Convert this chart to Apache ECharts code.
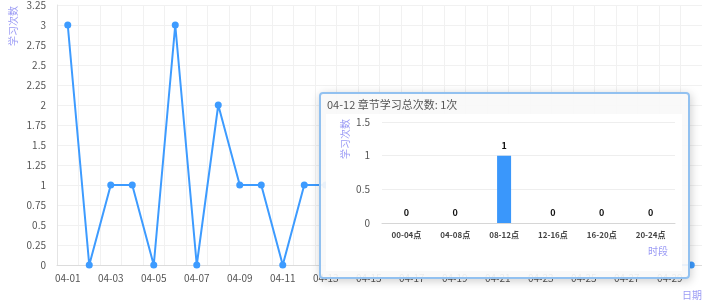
<!DOCTYPE html>
<html>
<head>
<meta charset="utf-8">
<script src="https://cdn.jsdelivr.net/npm/echarts@6/dist/echarts.min.js"></script>
<style>
  html, body { margin: 0; padding: 0; background: #fff; }
  #main { width: 702px; height: 307px; }
</style>
</head>
<body>
<div id="main"></div>
<script>
var fontFamily = '"Noto Sans CJK SC", "Noto Sans", sans-serif';

// daily totals, April
var days = ['04-01', '04-02', '04-03', '04-04', '04-05', '04-06', '04-07', '04-08', '04-09', '04-10',
  '04-11', '04-12', '04-13', '04-14', '04-15', '04-16', '04-17', '04-18', '04-19', '04-20',
  '04-21', '04-22', '04-23', '04-24', '04-25', '04-26', '04-27', '04-28', '04-29', '04-30'];
var dayCounts = [3, 0, 1, 1, 0, 3, 0, 2, 1, 1,
  0, 1, 1, 0, 0, 0, 0, 0, 0, 0,
  0, 0, 0, 0, 0, 0, 0, 0, 0, 0];

// time slots for the hovered day
var slots = ['00-04点', '04-08点', '08-12点', '12-16点', '16-20点', '20-24点'];
var slotCounts = [0, 0, 1, 0, 0, 0];

var lineColor = '#3d9bff';
var nameColor = '#9b9bf5';

var chartDom = document.getElementById('main');
var myChart = echarts.init(chartDom);

var tipEl = null;
function buildTip(params) {
  if (tipEl) return tipEl;
  tipEl = document.createElement('div');
  var title = document.createElement('div');
  title.style.cssText = 'height:20px;line-height:20px;font-size:11px;color:#555;padding-left:1px;';
  title.textContent = params.name + ' 章节学习总次数: ' + params.value + '次';
  var box = document.createElement('div');
  box.style.cssText = 'width:356px;height:157px;background:#fff;';
  tipEl.appendChild(title);
  tipEl.appendChild(box);

  var inner = echarts.init(box, null, { width: 356, height: 157 });
  inner.setOption({
    animation: false,
    textStyle: { fontFamily: fontFamily },
    grid: { left: 56, right: 7, top: 8, bottom: 48, outerBoundsMode: 'none' },
    xAxis: {
      type: 'category',
      data: slots,
      name: '时段',
      nameLocation: 'end',
      nameGap: 0,
      nameMoveOverlap: false,
      nameTextStyle: { color: nameColor, fontSize: 10, align: 'right', verticalAlign: 'top', padding: [23, 7, 0, 0] },
      axisLine: { lineStyle: { color: '#d6d6d6' } },
      axisTick: { lineStyle: { color: '#d6d6d6' } },
      axisLabel: { color: '#444', fontSize: 8, fontWeight: 'bold', interval: 0 }
    },
    yAxis: {
      type: 'value',
      min: 0,
      max: 1.5,
      interval: 0.5,
      name: '学习次数',
      nameLocation: 'end',
      nameRotate: 90,
      nameGap: -37,
      nameMoveOverlap: false,
      nameTextStyle: { color: nameColor, fontSize: 10, verticalAlign: 'bottom', padding: [0, 0, 32, 0] },
      axisLine: { show: false },
      axisTick: { show: false },
      axisLabel: { color: '#555', fontSize: 10, margin: 12 },
      splitLine: { lineStyle: { color: '#eeeeee' } }
    },
    series: [{
      type: 'bar',
      data: slotCounts,
      barWidth: 14,
      itemStyle: { color: '#3a97fb' },
      label: { show: true, position: 'top', color: '#111', fontWeight: 'bold', fontSize: 9, distance: 6 }
    }]
  });
  return tipEl;
}

var option = {
  animation: false,
  textStyle: { fontFamily: fontFamily },
  grid: { left: 57, right: 0, top: 5, bottom: 42, outerBoundsMode: 'none' },
  tooltip: {
    trigger: 'item',
    triggerOn: 'none',
    alwaysShowContent: true,
    transitionDuration: 0,
    position: [319, 92],
    padding: [0, 6, 6, 5],
    borderWidth: 2,
    borderColor: '#92c1f0',
    backgroundColor: 'rgba(248,248,248,0.92)',
    formatter: buildTip
  },
  xAxis: {
    type: 'category',
    data: days,
    name: '日期',
    nameLocation: 'end',
    nameGap: 0,
    nameMoveOverlap: false,
    nameTextStyle: { color: nameColor, fontSize: 10, align: 'right', verticalAlign: 'top', padding: [25, 0, 0, 0] },
    axisLine: { lineStyle: { color: '#dcdcdc' } },
    axisTick: { interval: 0, lineStyle: { color: '#dcdcdc' } },
    axisLabel: { color: '#555', fontSize: 10, interval: 1 },
    splitLine: { show: true, interval: 0, lineStyle: { color: '#f1f1f1' } }
  },
  yAxis: {
    type: 'value',
    min: 0,
    max: 3.25,
    interval: 0.25,
    name: '学习次数',
    nameLocation: 'end',
    nameRotate: 90,
    nameGap: -41,
    nameMoveOverlap: false,
    nameTextStyle: { color: nameColor, fontSize: 10, verticalAlign: 'bottom', padding: [0, 0, 39, 0] },
    axisLine: { show: true, lineStyle: { color: '#e4e4e4' } },
    axisTick: { show: false },
    axisLabel: { color: '#555', fontSize: 10, margin: 11 },
    splitLine: { lineStyle: { color: '#f1f1f1' } }
  },
  series: [{
    name: '学习次数',
    type: 'line',
    data: dayCounts,
    symbol: 'circle',
    symbolSize: 7,
    lineStyle: { width: 2, color: lineColor },
    itemStyle: { color: lineColor },
    emphasis: { disabled: true }
  }]
};

option && myChart.setOption(option);
myChart.dispatchAction({ type: 'showTip', seriesIndex: 0, dataIndex: 11 });
</script>
</body>
</html>
